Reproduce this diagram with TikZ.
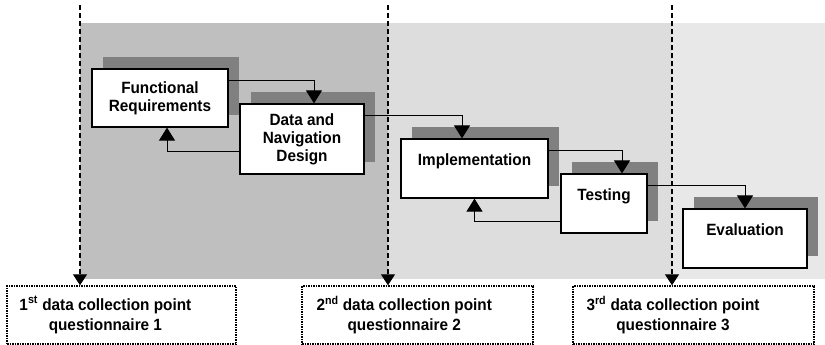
\documentclass[tikz,border=0pt]{standalone}
\usepackage{fontspec}
\setmainfont{Liberation Sans}
\newfontfamily\stagefont{Liberation Sans}[FakeStretch=0.94]
\usetikzlibrary{arrows.meta,shadows}
\definecolor{phaseA}{gray}{0.75}
\definecolor{phaseB}{gray}{0.866}
\definecolor{phaseC}{gray}{0.91}
\definecolor{shade}{gray}{0.5}
\tikzset{stage/.style = {draw, line width=1.2pt, fill=white, align=center, inner sep=0pt,
                         font=\stagefont\fontsize{16.3}{18}\selectfont\bfseries,
                         general shadow={fill=shade, shadow xshift=11pt, shadow yshift=12pt}},
         flow/.style = {line width=1pt, -{Triangle[length=13pt,width=16pt]}},
         collect/.style = {line width=1.2pt, dash pattern=on 5pt off 3pt, -{Triangle[length=11pt,width=14pt]}},
         pointbox/.style = {draw, line width=1.4pt, dash pattern=on 1.5pt off 1pt, minimum height=58pt},
         pointtext/.style = {anchor=west, align=center, inner sep=0pt, font=\stagefont\fontsize{16.3}{20}\selectfont\bfseries}}

\begin{document}
\begin{tikzpicture}[x=1pt,y=-1pt]
\useasboundingbox (0,0) rectangle (825,345);
% phases
\fill [phaseA] (80,23) rectangle (388,279);
\fill [phaseB] (388,23) rectangle (672,279);
\fill [phaseC] (672,23) rectangle (825,279);

\node [stage, minimum width=136pt, minimum height=58pt] (fr) at (160,98) {Functional\\Requirements};
\node [stage, minimum width=124pt, minimum height=70pt] (dnd) at (302,139) {Data and\\Navigation\\Design};
\node [stage, minimum width=147pt, minimum height=59pt] (impl) at (474.5,168.5) {Implementation\\\mbox{}};
\node [stage, minimum width=86pt, minimum height=59pt] (test) at (604,203.5) {Testing\\\mbox{}};
\node [stage, minimum width=124pt, minimum height=59pt] (eval) at (745,238.5) {Evaluation\\\mbox{}};

\draw [flow] ([yshift=-12pt]fr.north east) -| ([xshift=12pt]dnd.north);
\draw [flow] ([yshift=23pt]dnd.south west) -| ([xshift=7pt]fr.south);
\draw [flow] ([yshift=-12pt]dnd.north east) -| ([xshift=-12.5pt]impl.north);
\draw [flow] ([yshift=-12pt]impl.north east) -| ([xshift=18pt]test.north);
\draw [flow] ([yshift=12pt]test.south west) -| (impl.south);
\draw [flow] ([yshift=-12pt]test.north east) -| (eval.north);

% data collection points
\node [pointbox, minimum width=229pt] (q1) at (121.5,315) {};
\node [pointbox, minimum width=231pt] (q2) at (417.5,315) {};
\node [pointbox, minimum width=241pt] (q3) at (693.5,315) {};
\node [pointtext] (t1) at ([xshift=13pt]q1.west) {1\textsuperscript{st} data collection point\\questionnaire 1};
\node [pointtext] (t2) at ([xshift=15pt]q2.west) {2\textsuperscript{nd} data collection point\\questionnaire 2};
\node [pointtext] (t3) at ([xshift=14pt]q3.west) {3\textsuperscript{rd} data collection point\\questionnaire 3};

\coordinate (c1) at (80,5);
\coordinate (c2) at (388,5);
\coordinate (c3) at (672,5);
\draw [collect] (c1) -- (c1 |- q1.north);
\draw [collect] (c2) -- (c2 |- q2.north);
\draw [collect] (c3) -- (c3 |- q3.north);
\end{tikzpicture}
\end{document}
